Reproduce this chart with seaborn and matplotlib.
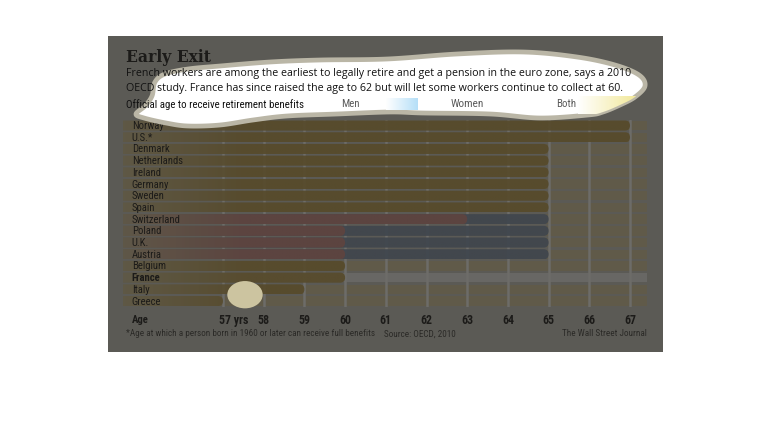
import numpy as np
import pandas as pd
import matplotlib
matplotlib.use("Agg")
import matplotlib.pyplot as plt
import matplotlib.transforms as mtransforms
from matplotlib import font_manager as fm
from matplotlib.patches import FancyBboxPatch, Rectangle, Polygon, Ellipse
import seaborn as sns

# ---- data ----
countries = ["Norway", "U.S.*", "Denmark", "Netherlands", "Ireland", "Germany", "Sweden", "Spain",
             "Switzerland", "Poland", "U.K.", "Austria", "Belgium", "France", "Italy", "Greece"]
men_age = [67, 67, 65, 65, 65, 65, 65, 65, 65, 65, 65, 65, 60, 60, 59, 57]
women_age = [67, 67, 65, 65, 65, 65, 65, 65, 63, 60, 60, 60, 60, 60, 59, 57]
ticks = list(range(57, 68))
tick_labels = ["57 yrs"] + [str(t) for t in ticks[1:]]

title = "Early Exit"
subtitle = ["French workers are among the earliest to legally retire and get a pension in the euro zone, says a 2010",
            "OECD study. France has since raised the age to 62 but will let some workers continue to collect at 60."]
legend_title = "Official age to receive retirement benefits"
legend_names = ["Men", "Women", "Both"]
footnote = "*Age at which a person born in 1960 or later can receive full benefits"
source = "Source: OECD, 2010"
credit = "The Wall Street Journal"

W, H = 770, 446
sns.set_theme(style="white")


def pick(cands):
    for c in cands:
        try:
            fm.findfont(fm.FontProperties(family=c), fallback_to_default=False)
            return c
        except Exception:
            pass
    return "DejaVu Sans"


NARROW = pick(["Liberation Sans Narrow", "Roboto Condensed", "DejaVu Sans Condensed", "Roboto"])
BODY = pick(["Open Sans", "Noto Sans"])
SERIF = pick(["DejaVu Serif"])
plt.rcParams["font.family"] = [NARROW, "DejaVu Sans"]

CARD = "#5b5a55"
STRIPE = "#605a49"
FR_STRIPE = "#686764"
GRID = "#6d6c68"
BOTH = "#574b2c"
WOMEN = "#5e4440"
MEN = "#40464e"
INK = "#1c1b19"

fig = plt.figure(figsize=(W / 100, H / 100), dpi=100)
fig.patch.set_facecolor("white")
renderer = fig.canvas.get_renderer()


def fit(t, target):
    w = t.get_window_extent(renderer).width
    t.set_fontsize(t.get_fontsize() * target / w)
    return t.get_fontsize()


bg = fig.add_axes([0, 0, 1, 1], zorder=0)
bg.set_xlim(0, W); bg.set_ylim(H, 0); bg.axis("off")
bg.add_patch(Rectangle((108, 36), 555, 316, color=CARD, lw=0))

# ---- main bar chart ----
AX_L, AX_R, AX_T, AX_B = 123, 647.3, 119.7, 306.9
ax = fig.add_axes([AX_L / W, 1 - AX_B / H, (AX_R - AX_L) / W, (AX_B - AX_T) / H], zorder=1)
ax.patch.set_alpha(0)

df = pd.DataFrame({"country": countries, "men": men_age, "women": women_age})
df["color"] = np.where(df.men == df.women, BOTH, MEN)
sns.barplot(data=df, x="men", y="country", hue="country", order=countries,
            palette=dict(zip(df.country, df.color)), legend=False, width=0.86,
            saturation=1, orient="h", ax=ax)
sub = df[df.women != df.men]
sns.barplot(data=sub, x="women", y="country", order=countries, color=WOMEN, width=0.86,
            saturation=1, orient="h", ax=ax)

xl = (54.543, 67.425)
n = len(countries)
ax.set_xlim(*xl)
ax.set_ylim(n - 0.5, -0.5)
px_x = (AX_R - AX_L) / (xl[1] - xl[0])
px_y = (AX_B - AX_T) / n
asp = px_x / px_y

# rounded ends + fade-in from the left, like the original bars
base = np.array(matplotlib.colors.to_rgb(STRIPE))
bars = [p for p in ax.patches if np.isfinite(p.get_width()) and p.get_width() > 0]
for k, p in enumerate(bars):
    col = np.array(p.get_facecolor()[:3])
    x0, y0, w, h = p.get_x(), p.get_y(), p.get_width(), p.get_height()
    p.remove()
    right = x0 + w
    shape = FancyBboxPatch((x0, y0), w, h, boxstyle=f"round,pad=0,rounding_size={h / asp / 2}",
                           mutation_aspect=asp, facecolor="none", edgecolor="none",
                           transform=ax.transData)
    ax.add_patch(shape)
    xs = np.linspace(xl[0], right, 512)
    tt = (0.12 + 0.88 * np.clip((xs - xl[0]) / 3.0, 0, 1))[:, None]
    img = np.ones((1, 512, 4)) * 0.94
    img[0, :, :3] = base * (1 - tt) + col * tt
    im = ax.imshow(img, extent=(xl[0], right, y0 + h, y0), aspect="auto",
                   interpolation="bilinear", zorder=2 + k * 0.01)
    im.set_clip_path(shape)

for i, c in enumerate(countries):
    ax.axhspan(i - 0.4, i + 0.4, color=FR_STRIPE if c == "France" else STRIPE, lw=0, zorder=0.1)

ax.set_xlim(*xl)
ax.set_ylim(n - 0.5, -0.5)
ax.set_xticks(ticks, tick_labels)
ax.set_yticks([])
ax.set_xlabel(""); ax.set_ylabel("")
ax.grid(True, axis="x", color=GRID, lw=1.8)
ax.set_axisbelow(True)
sns.despine(ax=ax, left=True, bottom=True)

probe = fig.text(0, 0, "60", fontweight="bold", family=[NARROW, "DejaVu Sans"], fontsize=8)
tick_fs = fit(probe, 12)
probe.remove()
ax.tick_params(axis="x", length=0, pad=5.2, labelsize=tick_fs, labelcolor=INK)
for lbl in ax.get_xticklabels():
    lbl.set_fontweight("bold")
xt = ax.get_xticklabels()
xt[0].set_horizontalalignment("left")
xt[0].set_transform(xt[0].get_transform() + mtransforms.ScaledTranslation(-4 / 100, 0, fig.dpi_scale_trans))

lab_tr = mtransforms.blended_transform_factory(ax.transAxes, ax.transData)
probe = fig.text(0, 0, "Netherlands", fontsize=8)
lab_fs = fit(probe, 51)
probe.remove()
for i, c in enumerate(countries):
    ax.text((131.7 - AX_L) / (AX_R - AX_L), i + 0.3, c, transform=lab_tr, ha="left", va="baseline",
            fontsize=lab_fs, color=INK, fontweight="bold" if c == "France" else "normal", zorder=5)

# ---- overlay: highlight blob, circle and text ----
ov = fig.add_axes([0, 0, 1, 1], zorder=3)
ov.set_xlim(0, W); ov.set_ylim(H, 0); ov.axis("off")
ov.patch.set_alpha(0)


def smooth_closed(pts, m=24):
    P = np.array(pts, float)
    out = []
    t = np.linspace(0, 1, m, endpoint=False)[:, None]
    for i in range(len(P)):
        p0, p1, p2, p3 = P[i - 1], P[i], P[(i + 1) % len(P)], P[(i + 2) % len(P)]
        out.append(0.5 * (2 * p1 + (-p0 + p2) * t + (2 * p0 - 5 * p1 + 4 * p2 - p3) * t ** 2
                          + (-p0 + 3 * p1 - 3 * p2 + p3) * t ** 3))
    return np.vstack(out)


blob_pts = [(155, 82), (165, 74), (188, 69), (220, 66), (270, 62), (320, 60), (387, 59), (457, 54),
            (523, 52), (577, 57), (615, 65), (639, 75), (645, 86), (635, 97), (620, 105), (603, 112),
            (588, 115), (540, 118), (490, 114), (423, 113), (390, 112), (337, 114), (287, 116),
            (253, 120), (220, 125), (188, 126), (166, 123), (144, 118), (136, 114), (145, 106),
            (152, 96)]
blob = Polygon(smooth_closed(blob_pts), closed=True, facecolor="white", edgecolor="#bab6a6",
               lw=3.4, joinstyle="round", zorder=1)
ov.add_patch(blob)

g = np.linspace(0, 1, 256)[:, None]
men_sw = np.ones((1, 256, 4))
men_sw[0, :, :3] = np.array([1, 1, 1]) * (1 - g) + np.array(matplotlib.colors.to_rgb("#b5dff8")) * g
ov.imshow(men_sw, extent=(386, 418, 110, 98), aspect="auto", zorder=2)
both_sw = np.ones((1, 256, 4))
both_sw[0, :, :3] = np.array([1, 1, 1]) * (1 - g) + np.array(matplotlib.colors.to_rgb("#efe382")) * g
im = ov.imshow(both_sw, extent=(578, 650, 114, 96), aspect="auto", zorder=2)
im.set_clip_path(blob)
ov.set_xlim(0, W); ov.set_ylim(H, 0)

ov.add_patch(Ellipse((245, 294.7), 35.4, 27.3, facecolor="#ccc4a0", edgecolor="none", zorder=2))

t = ov.text(125.5, 62.3, title, family=[SERIF, "DejaVu Sans"], fontweight="bold",
            fontsize=12, color=INK, va="baseline", zorder=4)
fit(t, 85)
t1 = ov.text(126, 76, subtitle[0], family=[BODY, "DejaVu Sans"], fontsize=7.5, color="#111111",
             va="baseline", zorder=4)
sub_fs = fit(t1, 506.7)
ov.text(126, 90.5, subtitle[1], family=[BODY, "DejaVu Sans"], fontsize=sub_fs, color="#111111",
        va="baseline", zorder=4)
t = ov.text(126, 107.5, legend_title, fontsize=7, color="#111111", va="baseline", zorder=4)
fit(t, 180)
for name, x, wd in zip(legend_names, [340.7, 451, 555.7], [18.6, 33.3, 20]):
    t = ov.text(x, 107, name, fontsize=7, color="#5a5a5a", va="baseline", zorder=4)
    fit(t, wd)

t = ov.text(132, 323.3, "Age", fontsize=8, fontweight="bold", color=INK, va="baseline", zorder=4)
fit(t, 16.7)
t = ov.text(125.7, 336.5, footnote, fontsize=6, color="#2b2a27", va="baseline", zorder=4)
foot_fs = fit(t, 245)
ov.text(383.9, 336.5, source, fontsize=foot_fs, color="#2b2a27", va="baseline", zorder=4)
ov.text(647.3, 336.5, credit, fontsize=foot_fs, color="#2b2a27", va="baseline", ha="right", zorder=4)

fig.savefig("out.png", dpi=100)
